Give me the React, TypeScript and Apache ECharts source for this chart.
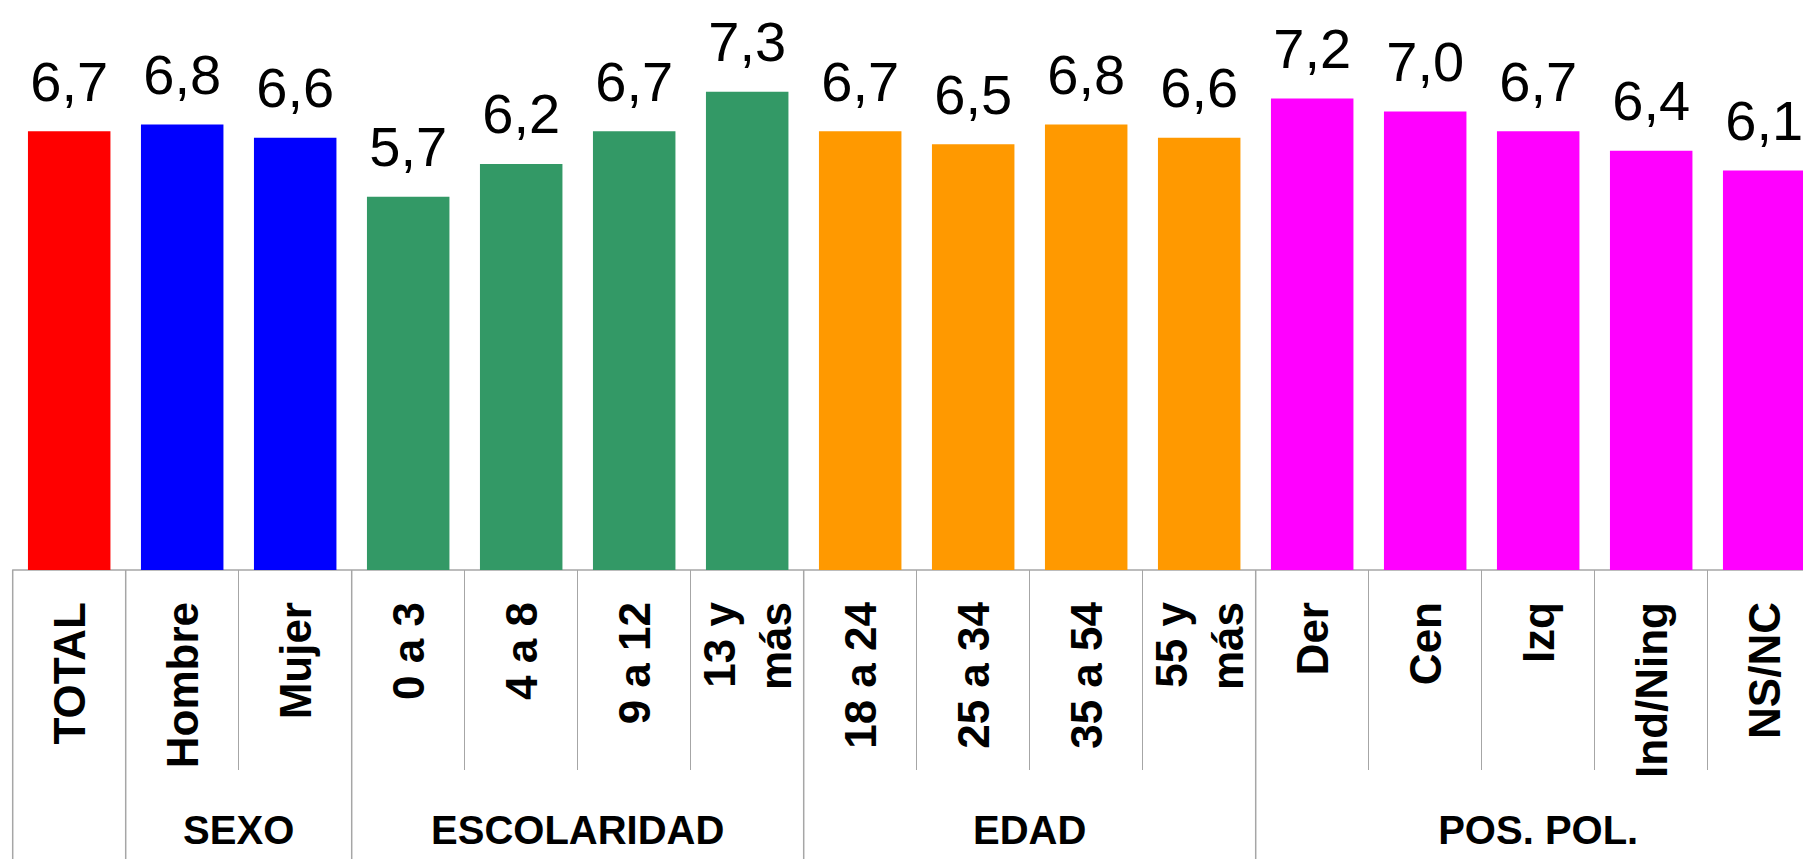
import React, { useEffect, useRef } from "react";
import * as echarts from "echarts";

const categories: string[] = [
  "TOTAL", "Hombre", "Mujer", "0 a 3", "4 a 8", "9 a 12", "13 y\nmás",
  "18 a 24", "25 a 34", "35 a 54", "55 y\nmás", "Der", "Cen", "Izq", "Ind/Ning", "NS/NC",
];
const values: number[] = [6.7, 6.8, 6.6, 5.7, 6.2, 6.7, 7.3, 6.7, 6.5, 6.8, 6.6, 7.2, 7.0, 6.7, 6.4, 6.1];

const groupNames: string[] = ["", "SEXO", "ESCOLARIDAD", "EDAD", "POS. POL."];
const groupStarts: number[] = [0, 1, 3, 7, 11];
const groupEnds: number[] = [0, 2, 6, 10, 15];
const groupColors: string[] = ["#FF0000", "#0000FF", "#339966", "#FF9900", "#FF00FF"];

const FONT = '"Liberation Sans", Arial, sans-serif';
const GRID_COLOR = "#a6a6a6";

function colorOf(i: number): string {
  for (let g = 0; g < groupStarts.length; g++) {
    if (i >= groupStarts[g] && i <= groupEnds[g]) return groupColors[g];
  }
  return "#000";
}

export default function App() {
  const ref = useRef<HTMLDivElement>(null);
  useEffect(() => {
    if (!ref.current) return;
    const chart = echarts.init(ref.current, undefined, { renderer: "svg" });
    const option: any = {
      animation: false,
      backgroundColor: "#ffffff",
      grid: { left: 12.7, right: 1.3, top: 46, bottom: 289, containLabel: false },
      xAxis: {
        type: "category",
        data: categories,
        axisLine: { show: true, lineStyle: { color: GRID_COLOR, width: 1.5 } },
        axisTick: { show: true, interval: 0, length: 200, lineStyle: { color: GRID_COLOR, width: 1 } },
        axisLabel: {
          interval: 0,
          rotate: 90,
          margin: 32,
          fontSize: 44,
          fontWeight: "bold",
          fontFamily: FONT,
          color: "#000",
          lineHeight: 56,
        },
        splitLine: { show: false },
      },
      yAxis: {
        type: "value",
        min: 0,
        max: 8,
        show: false,
        splitLine: { show: false },
      },
      series: [
        {
          type: "bar",
          barWidth: "73%",
          data: values.map((v, i) => ({ value: v, itemStyle: { color: colorOf(i) } })),
          label: {
            show: true,
            position: "top",
            distance: 22,
            fontSize: 56,
            fontFamily: FONT,
            color: "#000",
            formatter: (p: any) => Number(p.value).toFixed(1).replace(".", ","),
          },
        },
        {
          type: "custom",
          clip: false,
          silent: true,
          data: groupNames.map((n, g) => ({ name: n, value: [groupStarts[g], 0, groupEnds[g]] })),
          encode: { x: 0, y: 1 },
          renderItem: (params: any, api: any) => {
            const s = api.value(0);
            const e = api.value(2);
            const ps = api.coord([s, 0]);
            const pe = api.coord([e, 0]);
            const bw = api.size([1, 0])[0];
            const left = ps[0] - bw / 2;
            const right = pe[0] + bw / 2;
            const y0 = ps[1];
            const name = groupNames[params.dataIndex];
            return {
              type: "group",
              children: [
                {
                  type: "line",
                  shape: { x1: left, y1: y0, x2: left, y2: y0 + 300 },
                  style: { stroke: GRID_COLOR, lineWidth: 1.5 },
                },
                {
                  type: "text",
                  x: (left + right) / 2,
                  y: y0 + 260,
                  style: {
                    text: name,
                    align: "center",
                    verticalAlign: "middle",
                    fontSize: 40,
                    fontWeight: "bold",
                    fontFamily: FONT,
                    fill: "#000",
                  },
                },
              ],
            };
          },
        },
      ],
    };
    chart.setOption(option);
    return () => chart.dispose();
  }, []);
  return (
    <div
      ref={ref}
      style={{ position: "fixed", left: 0, top: 0, width: 1822, height: 859, background: "#fff" }}
    />
  );
}
